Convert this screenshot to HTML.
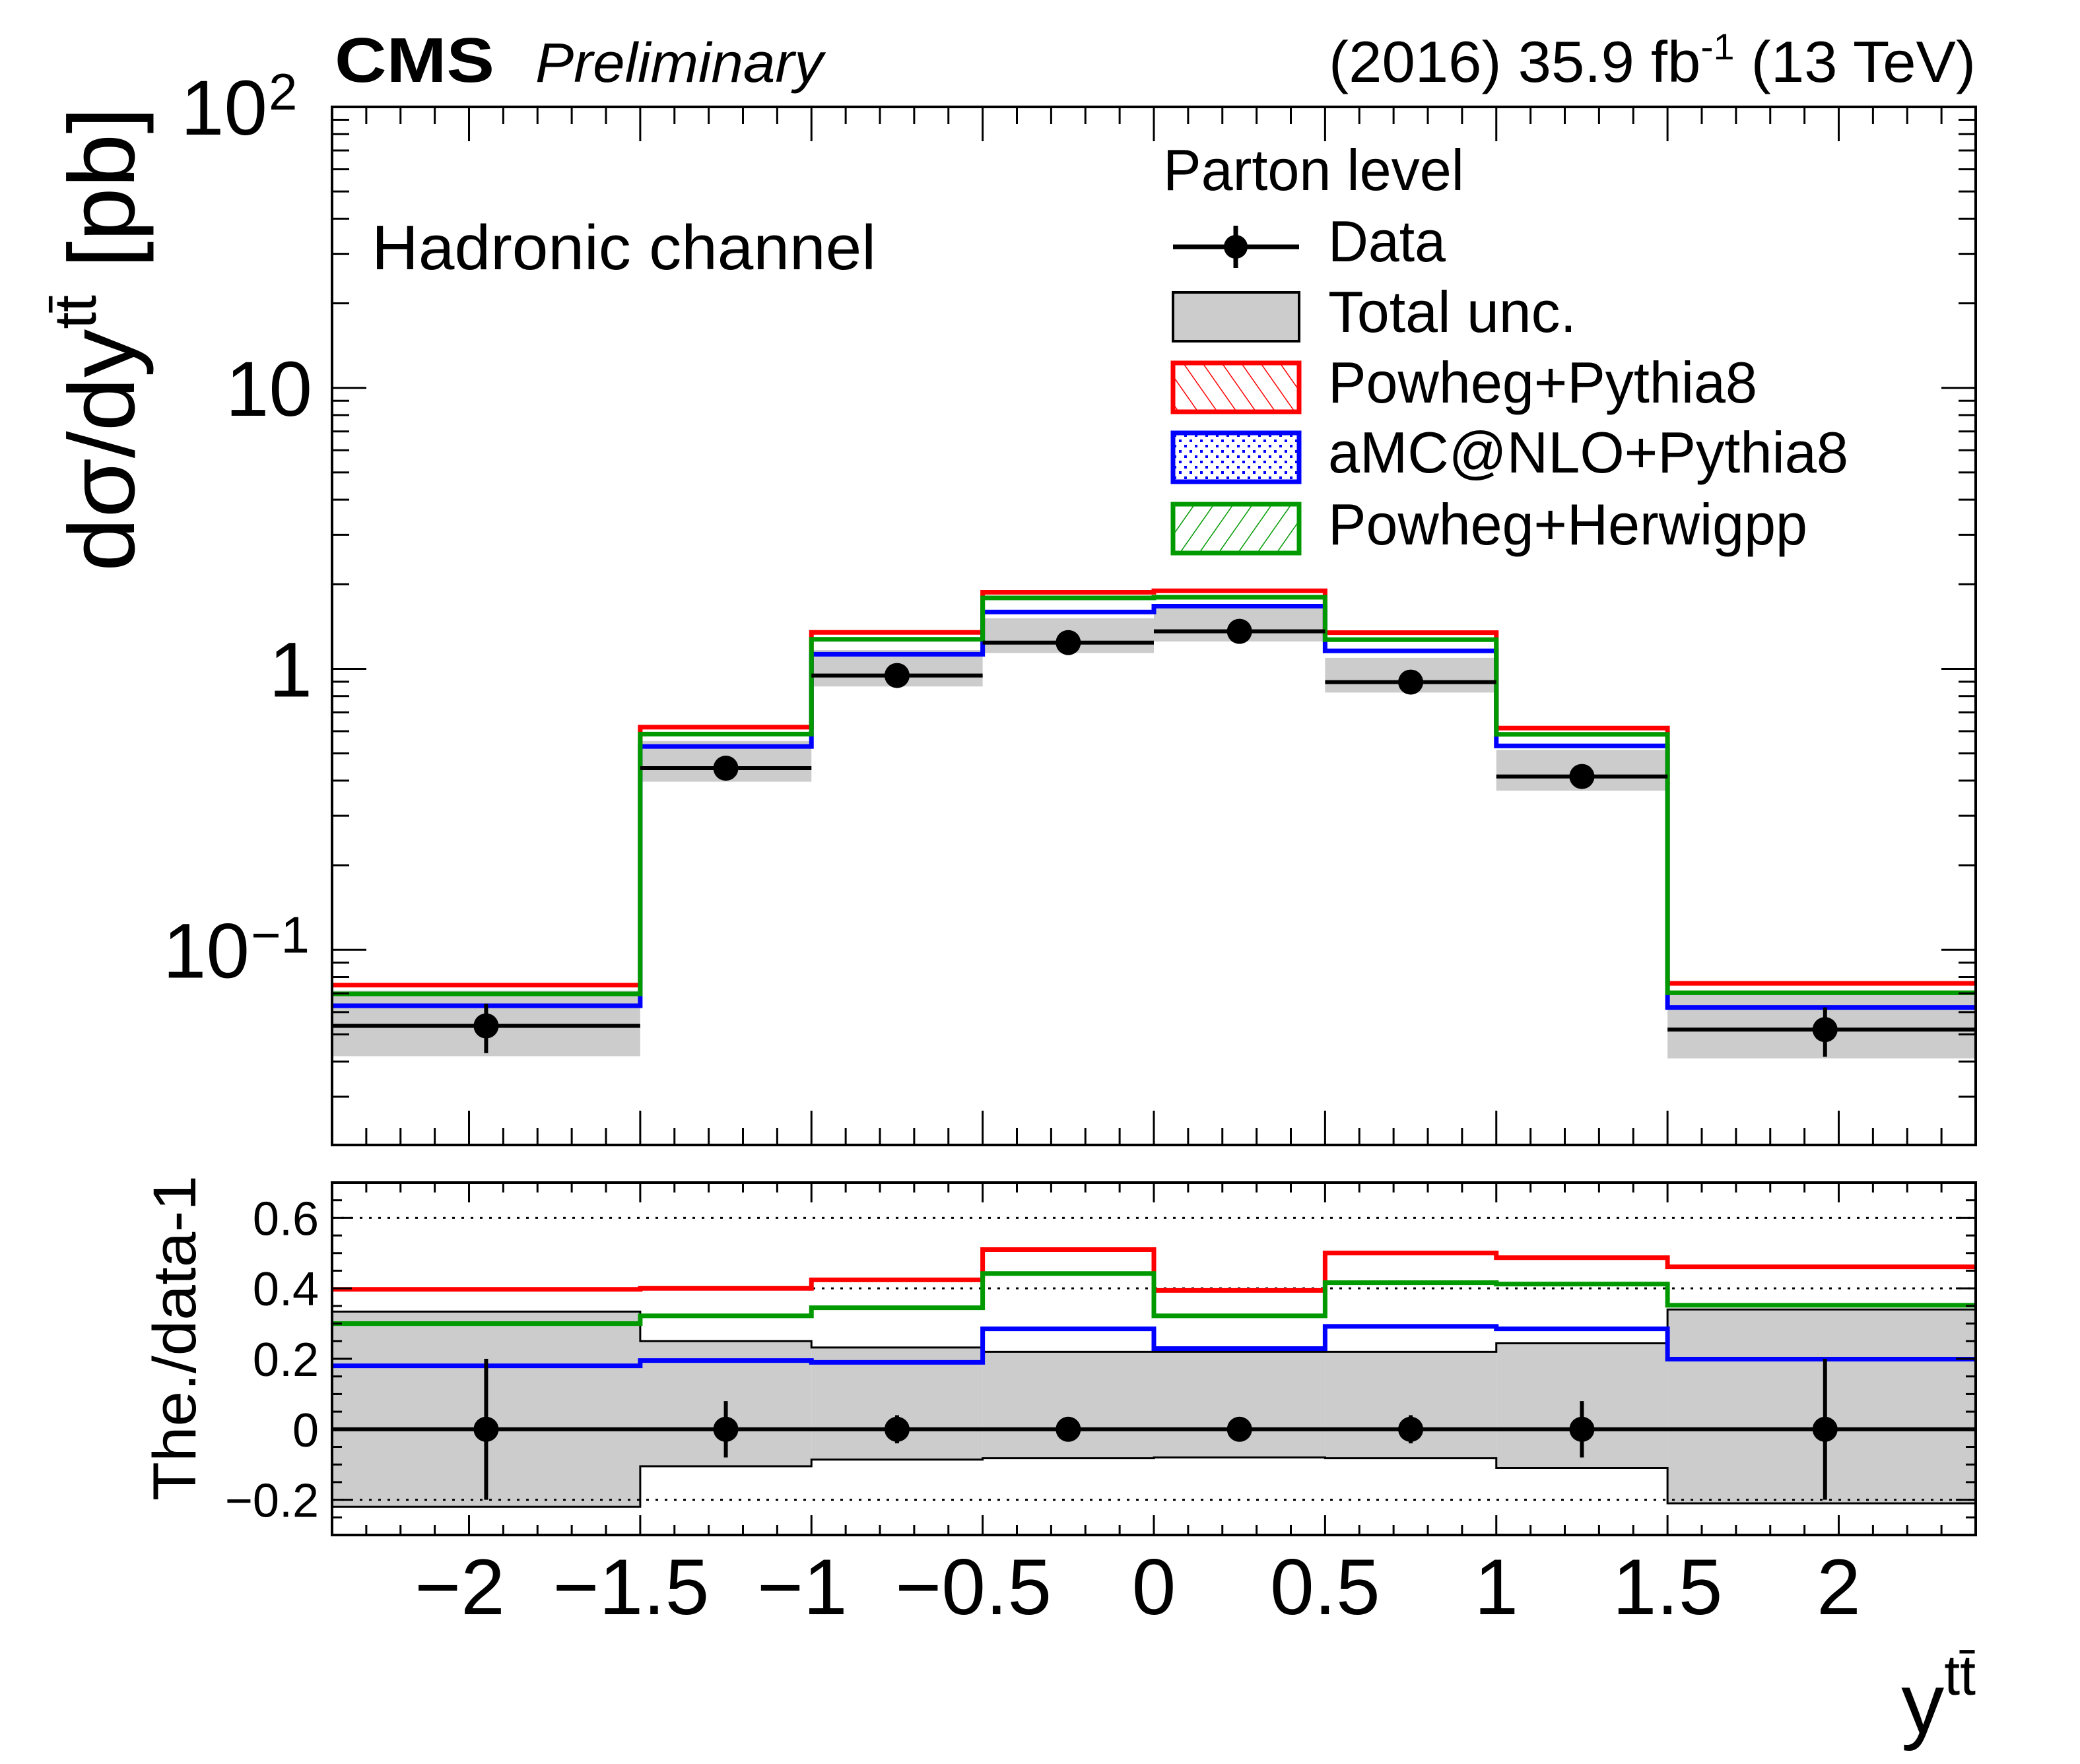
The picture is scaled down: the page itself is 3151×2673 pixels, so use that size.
<!DOCTYPE html>
<html><head><meta charset="utf-8"><style>
html,body{margin:0;padding:0;background:#fff}
svg{display:block;font-family:"Liberation Sans",sans-serif}
</style></head><body>
<svg id="chart" xmlns="http://www.w3.org/2000/svg" width="3151" height="2673" viewBox="0 0 3151 2673">
<defs>
<pattern id="hatchRed" patternUnits="userSpaceOnUse" width="24" height="24" patternTransform="rotate(-35)"><line x1="0" y1="0" x2="0" y2="24" stroke="#f00" stroke-width="3"/></pattern>
<pattern id="hatchGreen" patternUnits="userSpaceOnUse" width="24" height="24" patternTransform="rotate(35)"><line x1="0" y1="0" x2="0" y2="24" stroke="#090" stroke-width="3"/></pattern>
<pattern id="dotBlue" patternUnits="userSpaceOnUse" width="16" height="16"><rect x="2" y="2" width="4" height="4" fill="#00f"/><rect x="10" y="10" width="4" height="4" fill="#00f"/></pattern>
</defs>
<g id="upper"></g>
<g id="lower"></g>
<g id="texts">
<text x="507" y="124" font-size="96" font-weight="bold" textLength="242" lengthAdjust="spacingAndGlyphs">CMS</text>
<text x="811" y="124" font-size="84" font-style="italic" textLength="436" lengthAdjust="spacingAndGlyphs">Preliminary</text>
<text x="2993" y="124" font-size="88" text-anchor="end" textLength="980" lengthAdjust="spacingAndGlyphs">(2016) 35.9 fb<tspan dy="-34" font-size="56">-1</tspan><tspan dy="34"> (13 TeV)</tspan></text>
<text x="563" y="408" font-size="96" textLength="764" lengthAdjust="spacingAndGlyphs">Hadronic channel</text>
<text transform="translate(203,162) rotate(-90)" font-size="142" text-anchor="end" textLength="704" lengthAdjust="spacingAndGlyphs">dσ/dy<tspan dy="-58" font-size="90">tt̄</tspan><tspan dy="58"> [pb]</tspan></text>
<text transform="translate(296,1781) rotate(-90)" font-size="92" text-anchor="end" textLength="493" lengthAdjust="spacingAndGlyphs">The./data-1</text>
<text x="2993" y="2626" font-size="130" text-anchor="end">y<tspan dy="-58" font-size="86">tt̄</tspan></text>
</g>
<g id="legend">
<text x="1762" y="288" font-size="88" textLength="456" lengthAdjust="spacingAndGlyphs">Parton level</text>
<g>
<line x1="1777" y1="374" x2="1968" y2="374" stroke="#000" stroke-width="7"/><line x1="1872" y1="342" x2="1872" y2="406" stroke="#000" stroke-width="7"/><circle cx="1872" cy="374" r="18"/>
<text x="2012" y="396" font-size="88" textLength="178" lengthAdjust="spacingAndGlyphs">Data</text></g>
<g>
<rect x="1777" y="443" width="191" height="74" fill="#ccc" stroke="#000" stroke-width="4"/>
<text x="2012" y="503" font-size="88" textLength="376" lengthAdjust="spacingAndGlyphs">Total unc.</text></g>
<g>
<rect x="1777" y="550" width="191" height="74" fill="url(#hatchRed)" stroke="#f00" stroke-width="7"/>
<text x="2012" y="610" font-size="88" textLength="650" lengthAdjust="spacingAndGlyphs">Powheg+Pythia8</text></g>
<g>
<rect x="1777" y="656" width="191" height="74" fill="url(#dotBlue)" stroke="#00f" stroke-width="7"/>
<text x="2012" y="716" font-size="88" textLength="788" lengthAdjust="spacingAndGlyphs">aMC@NLO+Pythia8</text></g>
<g>
<rect x="1777" y="764" width="191" height="74" fill="url(#hatchGreen)" stroke="#090" stroke-width="7"/>
<text x="2012" y="825" font-size="88" textLength="726" lengthAdjust="spacingAndGlyphs">Powheg+Herwigpp</text></g>
</g>
</svg>
<script>
const binEdges=[-2.4,-1.5,-1,-0.5,0,0.5,1,1.5,2.4];
const dataX=[-1.95,-1.25,-0.75,-0.25,0.25,0.75,1.25,1.96];
const dataValues=[0.0536,0.443,0.947,1.24,1.36,0.897,0.414,0.052];
const statRelErr=[0.2,0.08,0.04,0.02,0.015,0.04,0.08,0.2];
const totUncUp=[0.334,0.25,0.232,0.22,0.22,0.22,0.244,0.34];
const totUncDown=[-0.22,-0.105,-0.086,-0.082,-0.08,-0.082,-0.11,-0.21];
const ratioPowhegPythia=[0.397,0.40,0.424,0.51,0.394,0.50,0.487,0.461];
const ratioAmcPythia=[0.18,0.195,0.19,0.285,0.229,0.292,0.285,0.199];
const ratioPowhegHerwig=[0.30,0.322,0.345,0.442,0.322,0.416,0.412,0.352];
const xTicks=[-2,-1.5,-1,-0.5,0,0.5,1,1.5,2];
const xTickLabels=["\u22122","\u22121.5","\u22121","\u22120.5","0","0.5","1","1.5","2"];
const ratioTicks=[-0.2,0,0.2,0.4,0.6];
const ratioTickLabels=["\u22120.2","0","0.2","0.4","0.6"];

const NS="http://www.w3.org/2000/svg";
const L=503,R=2993,UT=162,UB=1735,LT=1792,LB=2326;
const X0=-2.4,X1=2.4,YMIN=Math.log10(0.0202),YMAX=2,RMIN=-0.3,RMAX=0.7;
const sx=v=>L+(v-X0)/(X1-X0)*(R-L);
const sy=v=>UB-(Math.log10(v)-YMIN)/(YMAX-YMIN)*(UB-UT);
const sr=v=>LB-(v-RMIN)/(RMAX-RMIN)*(LB-LT);
function mk(p,tag,a){const e=document.createElementNS(NS,tag);for(const k in a)e.setAttribute(k,a[k]);p.appendChild(e);return e;}
const up=document.getElementById('upper'),lo=document.getElementById('lower');
const n=dataValues.length;
const pred=[ratioPowhegPythia,ratioAmcPythia,ratioPowhegHerwig];
const cols=["#f00","#00f","#090"];
const names=["powheg-pythia8","amcatnlo-pythia8","powheg-herwigpp"];

for(let i=0;i<n;i++){
  const y1=sy(dataValues[i]*(1+totUncUp[i])),y2=sy(dataValues[i]*(1+totUncDown[i]));
  const r=mk(up,'rect',{x:sx(binEdges[i]),y:y1,width:sx(binEdges[i+1])-sx(binEdges[i]),height:y2-y1,fill:'#ccc'});
  
  
}
for(let i=0;i<n;i++){
  const y1=sr(totUncUp[i]),y2=sr(totUncDown[i]);
  const r=mk(lo,'rect',{x:sx(binEdges[i]),y:y1,width:sx(binEdges[i+1])-sx(binEdges[i]),height:y2-y1,fill:'#ccc'});
  
  
}
function stepPath(vals,f){let d='';for(let i=0;i<n;i++){const y=f(vals[i]);d+=(i?'L':'M')+sx(binEdges[i])+','+y+'L'+sx(binEdges[i+1])+','+y;}return d;}
[totUncUp,totUncDown].forEach((arr,j)=>{
  const p=mk(lo,'path',{d:stepPath(arr,sr),fill:'none',stroke:'#000','stroke-width':3});
  
  
});
[-0.2,0.4,0.6].forEach(v=>{mk(lo,'line',{x1:L,x2:R,y1:sr(v),y2:sr(v),stroke:'#000','stroke-width':3,'stroke-dasharray':'4 10'});});
[0,1,2].forEach(k=>{
  const vals=dataValues.map((v,i)=>v*(1+pred[k][i]));
  const p1=mk(up,'path',{d:stepPath(vals,sy),fill:'none',stroke:cols[k],'stroke-width':7});
  
  
  const p2=mk(lo,'path',{d:stepPath(pred[k],sr),fill:'none',stroke:cols[k],'stroke-width':7});
  
  
});
mk(lo,'line',{x1:L,x2:R,y1:sr(0),y2:sr(0),stroke:'#000','stroke-width':6});
for(let i=0;i<n;i++){
  const y=sy(dataValues[i]),x=sx(dataX[i]);
  const g=mk(up,'g',{});
  
  
  mk(g,'line',{x1:sx(binEdges[i]),x2:sx(binEdges[i+1]),y1:y,y2:y,stroke:'#000','stroke-width':6});
  mk(g,'line',{x1:x,x2:x,y1:sy(dataValues[i]*(1+statRelErr[i])),y2:sy(dataValues[i]*(1-statRelErr[i])),stroke:'#000','stroke-width':6});
  mk(g,'circle',{cx:x,cy:y,r:19});
  const g2=mk(lo,'g',{});
  
  
  mk(g2,'line',{x1:x,x2:x,y1:sr(statRelErr[i]),y2:sr(-statRelErr[i]),stroke:'#000','stroke-width':6});
  mk(g2,'circle',{cx:x,cy:sr(0),r:19});
}
[[UT,UB,up],[LT,LB,lo]].forEach(([t,b,g])=>{
  mk(g,'rect',{x:L,y:t,width:R-L,height:b-t,fill:'none',stroke:'#000','stroke-width':4});
  for(let v=-2.4;v<=2.401;v+=0.1){
    const vv=Math.round(v*10)/10;const major=Math.abs(vv*2-Math.round(vv*2))<1e-6;
    const len=major?(g===up?52:30):(g===up?26:15);
    mk(g,'line',{x1:sx(vv),x2:sx(vv),y1:b,y2:b-len,stroke:'#000','stroke-width':3});
    mk(g,'line',{x1:sx(vv),x2:sx(vv),y1:t,y2:t+len,stroke:'#000','stroke-width':3});
  }
});
for(let e=-2;e<=1;e++){for(let m=1;m<=9;m++){const v=m*Math.pow(10,e);if(v<0.0202||v>100)continue;
  const len=m===1?52:26;
  mk(up,'line',{x1:L,x2:L+len,y1:sy(v),y2:sy(v),stroke:'#000','stroke-width':3});
  mk(up,'line',{x1:R,x2:R-len,y1:sy(v),y2:sy(v),stroke:'#000','stroke-width':3});}}
mk(up,'line',{x1:L,x2:L+52,y1:sy(100),y2:sy(100),stroke:'#000','stroke-width':3});
const yl=[["10",2,100],["10",null,10],["1",null,1],["10",-1,0.1]];
yl.forEach(([b,ex,v])=>{
  const t=mk(up,'text',{x:ex===null?473:(ex===2?405:378),y:sy(v)+42,'font-size':118,'text-anchor':'end'});
  
  
  t.textContent=b;
  if(ex!==null){const s=mk(up,'text',{x:ex===2?407:380,y:sy(v)+4,'font-size':78});s.textContent=ex===2?'2':'\u22121';}
});
for(let v=-0.3;v<=0.701;v+=0.05){const vv=Math.round(v*100)/100;const major=Math.abs(vv*5-Math.round(vv*5))<1e-6;const len=major?30:15;
  mk(lo,'line',{x1:L,x2:L+len,y1:sr(vv),y2:sr(vv),stroke:'#000','stroke-width':3});
  mk(lo,'line',{x1:R,x2:R-len,y1:sr(vv),y2:sr(vv),stroke:'#000','stroke-width':3});}
ratioTicks.forEach((v,i)=>{const t=mk(lo,'text',{x:483,y:sr(v)+26,'font-size':72,'text-anchor':'end'});
  
  
  t.textContent=ratioTickLabels[i];});
xTicks.forEach((v,i)=>{const t=mk(lo,'text',{x:sx(v)-(v<0?14:0),y:2446,'font-size':120,'text-anchor':'middle'});
  
  
  t.textContent=xTickLabels[i];});
</script>
</body></html>
